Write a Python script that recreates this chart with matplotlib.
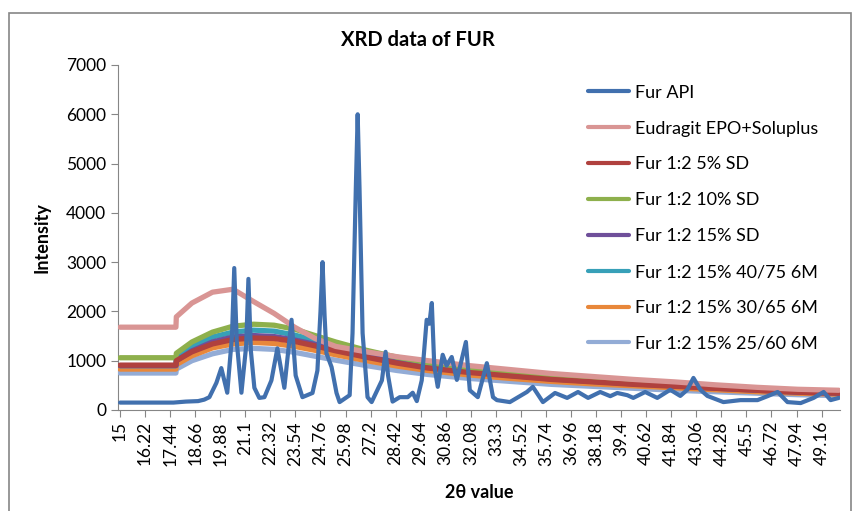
import matplotlib
matplotlib.use("Agg")
import matplotlib.pyplot as plt
from matplotlib.patches import Rectangle

plt.rcParams['font.family'] = ['Lato', 'DejaVu Sans']

# x-axis category labels (2θ)
tick_labels = ["15", "16.22", "17.44", "18.66", "19.88", "21.1", "22.32", "23.54",
               "24.76", "25.98", "27.2", "28.42", "29.64", "30.86", "32.08", "33.3",
               "34.52", "35.74", "36.96", "38.18", "39.4", "40.62", "41.84", "43.06",
               "44.28", "45.5", "46.72", "47.94", "49.16"]

# Fur API (crystalline)
api_2theta = [15, 17.6, 18.2, 18.8, 19.1, 19.35, 19.69, 19.93, 20.22, 20.45, 20.56, 20.68,
              20.91, 21.14, 21.25, 21.37, 21.54, 21.78, 22.03, 22.37, 22.66, 23.0, 23.35,
              23.55, 23.88, 24.37, 24.61, 24.76, 24.86, 24.96, 25.05, 25.3, 25.54, 25.69,
              26.18, 26.32, 26.48, 26.57, 26.66, 26.81, 27.05, 27.25, 27.75, 27.93, 28.05,
              28.27, 28.62, 29.01, 29.25, 29.45, 29.69, 29.93, 30.06, 30.18, 30.3, 30.47,
              30.71, 30.9, 31.15, 31.4, 31.84, 32.03, 32.42, 32.86, 33.16, 33.35, 33.98,
              34.81, 35.1, 35.59, 36.18, 36.77, 37.3, 37.79, 38.38, 38.87, 39.21, 39.7,
              39.99, 40.57, 41.16, 41.79, 42.28, 42.62, 42.92, 43.26, 43.6, 44.38, 45.21,
              46.04, 46.53, 47.02, 47.5, 48.14, 48.77, 49.26, 49.6, 50.0]
api_int = [150, 150, 170, 180, 210, 260, 550, 850, 350, 1500, 2880, 1400,
           350, 1300, 2660, 1200, 450, 245, 260, 600, 1250, 450, 1830,
           700, 260, 345, 800, 2000, 3000, 1900, 1150, 870, 345, 160,
           300, 1560, 4500, 6000, 4500, 1560, 260, 160, 600, 1180, 700,
           170, 260, 260, 350, 180, 600, 1830, 1750, 2170, 900, 470,
           1120, 900, 1075, 610, 1380, 400, 260, 950, 260, 200, 160,
           365, 470, 160, 345, 245, 365, 245, 365, 280, 345, 300,
           245, 365, 245, 410, 285, 410, 650, 410, 285, 160, 200,
           200, 280, 365, 160, 140, 245, 365, 200, 245]

# amorphous samples share one 2θ grid
grid_2theta = [15, 17.72, 17.74, 18.5, 19.5, 20.5, 21.5, 22.5, 23.5, 24.5, 25.5, 27,
               28.5, 30, 32, 34, 36, 38, 40, 42, 44, 46, 48, 50]
eudragit = [1680, 1680, 1890, 2170, 2390, 2450, 2200, 1960, 1680, 1450, 1290, 1180,
            1080, 1000, 900, 820, 740, 680, 620, 570, 510, 460, 420, 400]
sd_5 = [910, 910, 1000, 1180, 1340, 1430, 1460, 1450, 1390, 1300, 1200, 1070,
        950, 850, 760, 690, 620, 570, 520, 480, 440, 400, 360, 340]
sd_10 = [1060, 1060, 1150, 1380, 1580, 1700, 1740, 1720, 1640, 1510, 1380, 1210,
         1070, 960, 850, 770, 700, 640, 590, 540, 490, 440, 400, 370]
sd_15 = [900, 900, 1000, 1200, 1380, 1480, 1510, 1490, 1420, 1330, 1230, 1090,
         970, 870, 780, 700, 630, 580, 530, 490, 440, 400, 360, 340]
m6_4075 = [900, 900, 1050, 1280, 1480, 1580, 1620, 1600, 1520, 1410, 1300, 1140,
           1010, 900, 800, 720, 650, 600, 550, 500, 450, 410, 370, 350]
m6_3065 = [830, 830, 920, 1100, 1260, 1340, 1370, 1350, 1290, 1210, 1120, 1000,
           890, 800, 710, 640, 580, 530, 490, 450, 410, 370, 340, 320]
m6_2560 = [750, 750, 830, 1000, 1140, 1230, 1250, 1230, 1170, 1090, 1010, 900,
           800, 720, 640, 580, 520, 480, 440, 400, 370, 340, 310, 290]

series = [
    ("Fur API", api_2theta, api_int, "#4170ae"),
    ("Eudragit EPO+Soluplus", grid_2theta, eudragit, "#d99594"),
    ("Fur 1:2 5% SD", grid_2theta, sd_5, "#b0413e"),
    ("Fur 1:2 10% SD", grid_2theta, sd_10, "#8eb04c"),
    ("Fur 1:2 15% SD", grid_2theta, sd_15, "#6f4f9a"),
    ("Fur 1:2 15% 40/75 6M", grid_2theta, m6_4075, "#37a0b8"),
    ("Fur 1:2 15% 30/65 6M", grid_2theta, m6_3065, "#e8873a"),
    ("Fur 1:2 15% 25/60 6M", grid_2theta, m6_2560, "#93acd6"),
]

fig = plt.figure(figsize=(8.57, 5.11), dpi=100)
ax = fig.add_axes([0.1377, 0.1977, 0.8423, 0.6751])

n = len(series)
for i, (name, x, y, c) in enumerate(series):
    ax.plot(x, y, color=c, lw=3 if i == 0 else 3.8, label=name, zorder=n - i + 2,
            solid_joinstyle='round', solid_capstyle='round')

ax.set_xlim(14.9, 50.05)
ax.set_ylim(0, 7000)
ax.set_yticks(range(0, 7001, 1000))
ax.set_xticks([float(t) for t in tick_labels])
ax.set_xticklabels(tick_labels, rotation=90)
ax.tick_params(axis='both', labelsize=12.5, color='#868686', length=5, direction='out')
ax.tick_params(axis='x', pad=3)

for s in ['top', 'right']:
    ax.spines[s].set_visible(False)
for s in ['left', 'bottom']:
    ax.spines[s].set_color('#868686')

fig.text(0.488, 0.922, "XRD data of FUR", ha='center', va='center',
         fontsize=14.5, fontweight='bold')
fig.text(0.049, 0.536, "Intensity", ha='center', va='center', rotation=90,
         fontsize=13, fontweight='bold')
fig.text(0.559, 0.037, "2θ value", ha='center', va='center',
         fontsize=13, fontweight='bold')

leg = ax.legend(loc='upper left', bbox_to_anchor=(0.628, 0.99), frameon=False,
                fontsize=13, handlelength=2.3, handletextpad=0.3, labelspacing=1.1)
for h in leg.get_lines():
    h.set_linewidth(3)

fig.add_artist(Rectangle((9 / 857, -0.02), 842 / 857, 1 - 13 / 511 + 0.02,
                         transform=fig.transFigure, fill=False,
                         edgecolor='#868686', lw=1.2))

fig.savefig("out.png", dpi=100)
